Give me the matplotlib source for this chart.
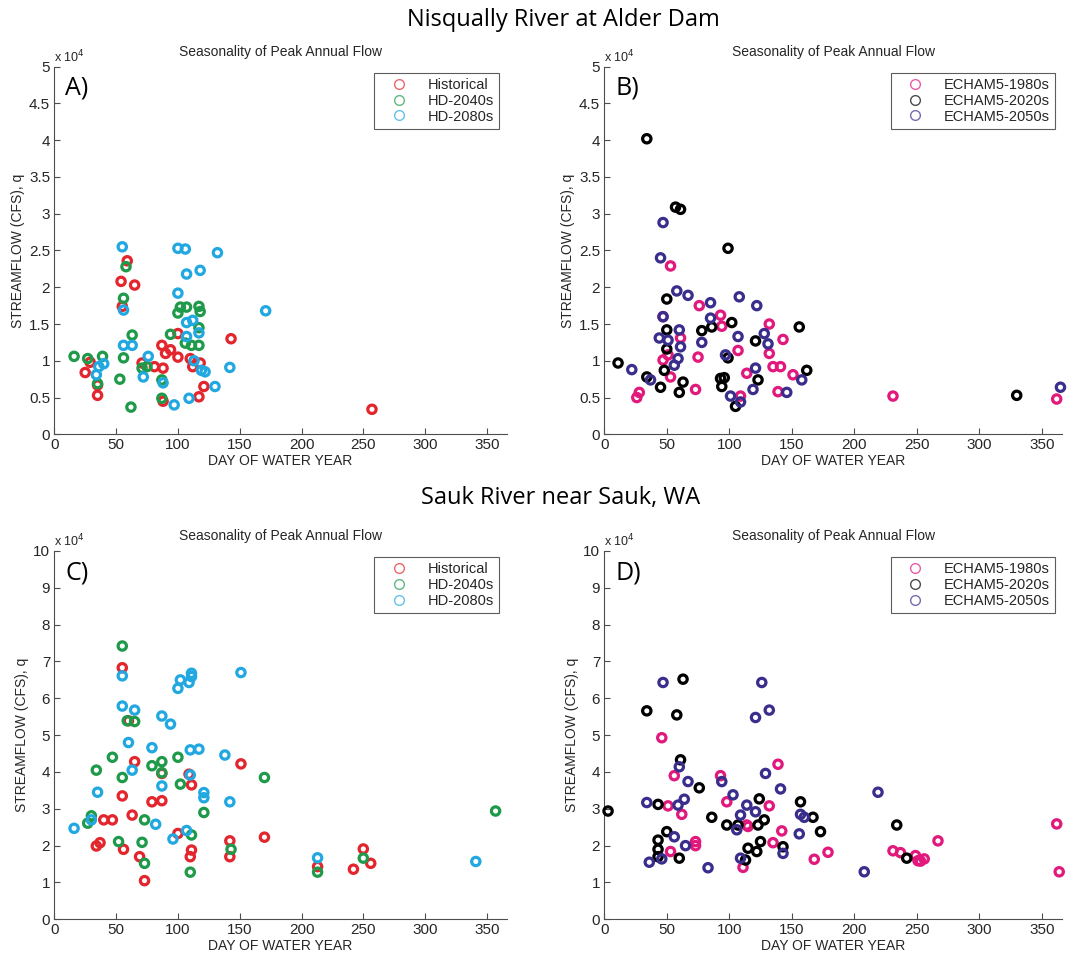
import numpy as np
import matplotlib
matplotlib.use('Agg')
import matplotlib.pyplot as plt
from matplotlib.lines import Line2D

plt.rcParams['font.family'] = ['Liberation Sans', 'DejaVu Sans']

# ---- Nisqually River at Alder Dam, panel A (day of water year, peak flow in CFS)
a_hist_day = [25, 29, 35, 35, 54, 59, 65, 55, 71, 81, 87, 88, 88, 90, 94, 100, 100, 110, 112, 118, 117, 121, 143, 257]
a_hist_q = [8400, 9800, 5300, 6700, 20800, 23600, 20300, 17400, 9700, 9200, 12100, 9000, 4500, 11000, 11500, 13700, 10500, 10300, 9200, 9700, 5100, 6500, 13000, 3400]
a_2040_day = [16, 27, 39, 35, 53, 56, 56, 58, 63, 62, 71, 75, 87, 87, 94, 100, 102, 107, 106, 111, 117, 117, 118, 117]
a_2040_q = [10600, 10300, 10600, 6900, 7500, 10400, 18500, 22800, 13500, 3700, 9000, 9200, 4900, 7400, 13600, 16500, 17300, 17300, 12400, 12100, 12100, 17400, 16700, 14500]
a_2080_day = [55, 56, 56, 63, 36, 34, 40, 76, 72, 88, 97, 100, 106, 107, 100, 118, 132, 171, 107, 112, 107, 117, 109, 113, 119, 122, 130, 142]
a_2080_q = [25500, 16900, 12100, 12100, 9200, 8100, 9600, 10600, 7800, 7000, 4000, 25300, 25200, 21800, 19200, 22300, 24700, 16800, 15200, 15500, 13300, 13800, 4900, 10000, 8700, 8500, 6500, 9100]

# ---- Nisqually, panel B (ECHAM5)
b_1980_day = [26, 28, 53, 47, 47, 53, 51, 61, 73, 75, 76, 93, 94, 107, 109, 114, 132, 132, 135, 141, 143, 139, 151, 231, 362]
b_1980_q = [5000, 5700, 22900, 10100, 16000, 7800, 10800, 13100, 6100, 10500, 17500, 16200, 14700, 11400, 5200, 8300, 15000, 11000, 9200, 9200, 12900, 5800, 8100, 5200, 4800]
b_2020_day = [11, 34, 34, 45, 50, 50, 50, 48, 57, 61, 60, 63, 78, 86, 93, 96, 94, 99, 99, 102, 105, 121, 123, 156, 162, 330]
b_2020_q = [9700, 40200, 7800, 6400, 18400, 14200, 11600, 8700, 30900, 30600, 5700, 7100, 14100, 14600, 7600, 7700, 6500, 25300, 10400, 15200, 3800, 12700, 7400, 14600, 8700, 5300]
b_2050_day = [22, 37, 45, 47, 44, 47, 58, 67, 60, 61, 59, 56, 51, 85, 85, 78, 97, 108, 107, 101, 109, 122, 121, 119, 128, 131, 146, 158, 365]
b_2050_q = [8800, 7400, 24000, 28800, 13100, 16000, 19500, 18900, 14200, 11900, 10300, 9400, 12800, 17900, 15800, 12500, 10800, 18700, 13300, 5200, 4400, 17500, 9000, 6100, 13700, 12300, 5700, 7400, 6400]

# ---- Sauk River near Sauk, WA, panel C
c_hist_day = [55, 55, 56, 60, 65, 63, 34, 37, 40, 47, 69, 73, 79, 87, 87, 100, 109, 111, 111, 110, 142, 142, 151, 170, 213, 242, 250, 256]
c_hist_q = [68300, 33500, 19000, 53900, 42800, 28300, 19900, 20800, 27000, 27000, 17000, 10500, 31900, 32200, 39600, 23300, 39400, 36500, 18800, 17000, 21300, 17000, 42200, 22300, 14300, 13600, 19100, 15200]
c_2040_day = [55, 34, 27, 30, 47, 52, 55, 59, 65, 73, 71, 73, 79, 87, 87, 100, 102, 111, 110, 121, 143, 170, 213, 250, 357]
c_2040_q = [74200, 40500, 26100, 28100, 44000, 21100, 38500, 53900, 53700, 27000, 20900, 15200, 41700, 42800, 39800, 44000, 36700, 22900, 12800, 29000, 19000, 38500, 12800, 16600, 29400]
c_2080_day = [16, 30, 35, 55, 55, 65, 60, 63, 82, 79, 87, 94, 87, 96, 100, 102, 109, 111, 111, 110, 117, 110, 107, 121, 121, 138, 142, 151, 213, 341]
c_2080_q = [24700, 27000, 34500, 66100, 57900, 56800, 48000, 40500, 25800, 46600, 55200, 53000, 36200, 21800, 62700, 65000, 64300, 66800, 65900, 46000, 46200, 39200, 24100, 34400, 33000, 44600, 31900, 67000, 16700, 15700]

# ---- Sauk, panel D (ECHAM5)
d_1980_day = [46, 56, 51, 53, 62, 73, 73, 93, 98, 111, 114, 115, 132, 135, 139, 142, 168, 179, 231, 237, 249, 251, 253, 256, 267, 362, 364]
d_1980_q = [49300, 39000, 30800, 18400, 28500, 21100, 20000, 39000, 31900, 14100, 25600, 25200, 30800, 20800, 42100, 24000, 16300, 18200, 18600, 18100, 17300, 15900, 15800, 16400, 21300, 25900, 12900]
d_2020_day = [3, 34, 43, 43, 43, 43, 50, 58, 60, 61, 63, 76, 86, 98, 107, 115, 113, 122, 123, 124, 125, 128, 143, 157, 167, 173, 234, 242]
d_2020_q = [29400, 56600, 31200, 21500, 19000, 17000, 23800, 55500, 16600, 43300, 65200, 35700, 27700, 25600, 25600, 19300, 16100, 18400, 25600, 32700, 21100, 27000, 19700, 31900, 27700, 23800, 25600, 16600]
d_2050_day = [34, 36, 47, 46, 56, 59, 60, 64, 67, 65, 83, 94, 103, 109, 106, 109, 114, 121, 121, 126, 132, 129, 141, 143, 156, 157, 160, 219, 208]
d_2050_q = [31700, 15500, 64300, 16400, 22400, 31000, 41400, 32600, 37400, 20000, 14000, 37400, 33800, 28300, 24300, 16600, 31000, 29200, 54800, 64300, 56800, 39600, 35400, 17900, 23200, 28500, 27700, 34500, 12900]

hd_labels = ['Historical', 'HD-2040s', 'HD-2080s']
ec_labels = ['ECHAM5-1980s', 'ECHAM5-2020s', 'ECHAM5-2050s']
hd_colors = ['#e3262d', '#1e9a4a', '#22a8e0']
ec_colors = ['#e2197c', '#000000', '#3a2e8c']

W, H = 1073, 958
fig = plt.figure(figsize=(W / 100, H / 100), dpi=100)

def px_axes(l, t, r, b):
    return fig.add_axes([l / W, 1 - b / H, (r - l) / W, (b - t) / H])

panels = [
    (px_axes(54.3, 66.7, 506.7, 434.3), 'A)', 5, 0.5, hd_labels, hd_colors,
     [(a_hist_day, a_hist_q), (a_2040_day, a_2040_q), (a_2080_day, a_2080_q)], 0.983),
    (px_axes(604.3, 66.7, 1061.7, 434.3), 'B)', 5, 0.5, ec_labels, ec_colors,
     [(b_1980_day, b_1980_q), (b_2020_day, b_2020_q), (b_2050_day, b_2050_q)], 0.985),
    (px_axes(54.3, 551, 506.7, 919.3), 'C)', 10, 1, hd_labels, hd_colors,
     [(c_hist_day, c_hist_q), (c_2040_day, c_2040_q), (c_2080_day, c_2080_q)], 0.983),
    (px_axes(604.3, 551, 1061.7, 919.3), 'D)', 10, 1, ec_labels, ec_colors,
     [(d_1980_day, d_1980_q), (d_2020_day, d_2020_q), (d_2050_day, d_2050_q)], 0.985),
]

for ax, letter, ymax, ystep, labels, colors, series, leg_x in panels:
    for (day, q), col in zip(series, colors):
        ax.scatter(day, np.array(q) / 1e4, s=36, facecolors='none',
                   edgecolors=col, linewidths=2.3, clip_on=False, zorder=3)
    ax.set_xlim(0, 366)
    ax.set_ylim(0, ymax)
    ax.set_xticks(np.arange(0, 351, 50))
    yt = np.arange(0, ymax + ystep / 2, ystep)
    ax.set_yticks(yt)
    ax.set_yticklabels(['%g' % v for v in yt])
    for s in ['top', 'right']:
        ax.spines[s].set_visible(False)
    for s in ['left', 'bottom']:
        ax.spines[s].set_color('0.3')
        ax.spines[s].set_linewidth(0.8)
    ax.tick_params(direction='in', length=4, width=0.8, color='0.3',
                   labelsize=11, labelcolor='0.15', pad=3)
    ax.set_xlabel('DAY OF WATER YEAR', fontsize=10, color='0.15', labelpad=1)
    ax.set_ylabel('STREAMFLOW (CFS), q', fontsize=10, color='0.15', labelpad=3)
    ax.set_title('Seasonality of Peak Annual Flow', fontsize=10, color='0.15', pad=8)
    ax.text(0.0, 1.005, r'x 10$^4$', transform=ax.transAxes, fontsize=9,
            color='0.15', ha='left', va='bottom')
    ax.text(0.024, 0.975, letter, transform=ax.transAxes, fontsize=18,
            family=['Open Sans', 'DejaVu Sans'], ha='left', va='top')
    handles = [Line2D([0], [0], ls='none', marker='o', ms=7, mfc='none',
                      mec=c, mew=1.0, alpha=0.7, label=lab)
               for lab, c in zip(labels, colors)]
    leg = ax.legend(handles=handles, loc='upper right', bbox_to_anchor=(leg_x, 0.983),
                    fontsize=10.5, frameon=True, fancybox=False, handlelength=2.7,
                    handletextpad=0.6, borderpad=0.35, labelspacing=0.12,
                    borderaxespad=0)
    leg.get_frame().set_edgecolor('0.2')
    leg.get_frame().set_linewidth(0.8)
    for t in leg.get_texts():
        t.set_color('0.15')

fig.text(563 / W, 1 - 20 / H, 'Nisqually River at Alder Dam', fontsize=17,
         family=['Open Sans', 'DejaVu Sans'], ha='center', va='center')
fig.text(561 / W, 1 - 498 / H, 'Sauk River near Sauk, WA', fontsize=17,
         family=['Open Sans', 'DejaVu Sans'], ha='center', va='center')

fig.savefig('out.png', dpi=100)
